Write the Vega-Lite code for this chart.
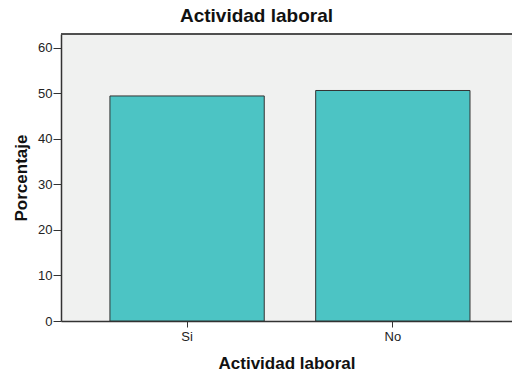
{
  "$schema": "https://vega.github.io/schema/vega-lite/v6.json",
  "autosize": {"type": "none"},
  "width": 451,
  "height": 287,
  "padding": {"left": 61, "top": 34, "right": 0, "bottom": 55},
  "background": "white",
  "title": {
    "text": "Actividad laboral",
    "font": "Liberation Sans",
    "fontSize": 19,
    "fontWeight": "bold",
    "color": "#111",
    "anchor": "middle",
    "dx": -30,
    "offset": 7
  },
  "config": {
    "view": {"fill": "#f0f1f0", "stroke": null},
    "axis": {
      "labelFont": "Liberation Sans",
      "labelFontSize": 13,
      "labelColor": "#222",
      "titleFont": "Liberation Sans",
      "titleFontSize": 17,
      "titleFontWeight": "bold",
      "titleColor": "#111",
      "domainColor": "#333",
      "tickColor": "#333",
      "grid": false
    }
  },
  "data": {
    "values": [
      {"actividad": "Si", "porcentaje": 49.4},
      {"actividad": "No", "porcentaje": 50.6}
    ]
  },
  "layer": [
    {
      "mark": {"type": "bar", "fill": "#4cc4c4", "stroke": "#333", "strokeWidth": 1},
      "encoding": {
        "x": {
          "field": "actividad",
          "type": "nominal",
          "sort": ["Si", "No"],
          "title": "Actividad laboral",
          "scale": {"paddingInner": 0.25, "paddingOuter": 0.221, "align": 0.538},
          "axis": {"labelAngle": 0, "tickSize": 6, "labelPadding": 3, "titlePadding": 12, "domainWidth": 1.5}
        },
        "y": {
          "field": "porcentaje",
          "type": "quantitative",
          "title": "Porcentaje",
          "scale": {"domain": [0, 63], "nice": false},
          "axis": {"values": [0, 10, 20, 30, 40, 50, 60], "tickSize": 8, "labelPadding": 1, "titlePadding": 7, "domainWidth": 1.5}
        }
      }
    },
    {
      "mark": {"type": "rule", "color": "#444", "strokeWidth": 1.5},
      "encoding": {"y": {"datum": 63}}
    }
  ]
}
